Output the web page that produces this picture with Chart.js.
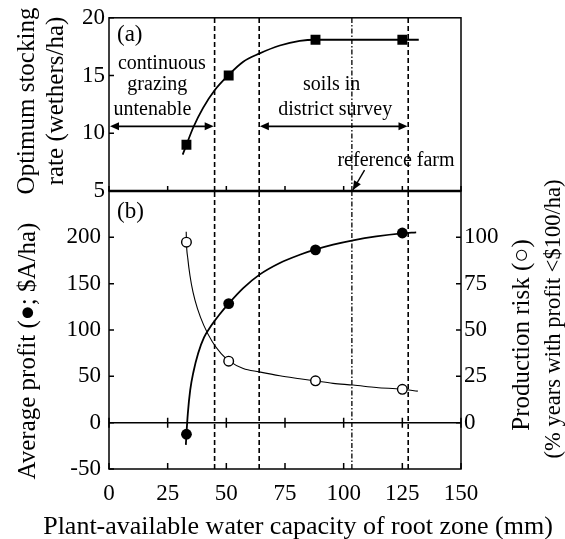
<!DOCTYPE html>
<html>
<head>
<meta charset="utf-8">
<script src="https://cdn.jsdelivr.net/npm/chart.js@4.4.1/dist/chart.umd.min.js"></script>
<style>
  body { margin: 0; background: #fff; }
  #wrap { position: relative; width: 565px; height: 539px; }
  #wrap canvas { position: absolute; left: 0; top: 0; }
</style>
</head>
<body>
<div id="wrap">
  <canvas id="profit" width="565" height="539"></canvas>
  <canvas id="stock" width="565" height="539"></canvas>
</div>
<script>
// plant-available water capacity of the four soils (mm)
var capacity = [33, 51, 88, 125];
var stockingRate = [9, 15, 18.1, 18.1];          // wethers/ha
var avgProfit = [-12.5, 128.5, 186.5, 204.7];    // $A/ha
var prodRisk = [97.4, 33.2, 22.6, 18];           // % years with profit < $100/ha

// fitted curves
var stockCurveX = [31.4, 33, 35.9, 40.1, 45.1, 51.2, 57.2, 64, 72.8, 81.3, 88, 100, 115, 132];
var stockCurveY = [8.15, 9, 10.5, 12.2, 13.75, 15.1, 16.2, 16.9, 17.6, 18.0, 18.1, 18.1, 18.1, 18.1];
var profitCurveX = [32.75, 33, 33.6, 34.6, 36, 38, 40.5, 43.5, 47, 51, 57.2, 64, 72.8, 81.3, 87.4, 95.5, 104, 113.9, 124.8, 130.9];
var profitCurveY = [-24, -12.5, 10, 35, 55, 75, 92, 104.5, 116.5, 128.5, 145.2, 159.5, 172.3, 181.2, 186.4, 192.1, 196.8, 201, 204.3, 205.4];
var riskCurveX = [32.9, 33, 33.6, 34.5, 35.8, 37.7, 40.4, 44.1, 47.8, 51.3, 57.2, 64, 72.8, 81.3, 87.4, 95.5, 104, 113.9, 124.8, 131.6];
var riskCurveY = [103, 97.4, 88.4, 79.4, 70.4, 61.5, 52.5, 43.5, 37.3, 33.2, 29.2, 27.4, 25.3, 23.7, 22.6, 21.2, 20.3, 19, 18, 17];

var xTicks = [0, 25, 50, 75, 100, 125, 150];
var stockTicks = [5, 10, 15, 20];
var profitTicks = [-50, 0, 50, 100, 150, 200];
var riskTicks = [0, 25, 50, 75, 100];

// grazing limit, survey range lower / upper bound, reference farm
var boundaries = [45, 64, 127.5];
var referenceFarm = 103.5;

var SERIF = '"Liberation Serif", "Times New Roman", serif';
Chart.defaults.font.family = SERIF;
Chart.defaults.color = '#000';

function pts(xs, ys) {
  return xs.map(function (x, i) { return { x: x, y: ys[i] }; });
}
function curve(xs, ys, w, axis) {
  return { data: pts(xs, ys), showLine: true, borderColor: '#000', borderWidth: w,
    pointRadius: 0, cubicInterpolationMode: 'monotone', yAxisID: axis || 'y' };
}
function vlines(lo, hi) {
  var out = boundaries.map(function (b) {
    return { data: [{ x: b, y: lo }, { x: b, y: hi }], showLine: true, borderColor: '#000',
      borderWidth: 1.6, borderDash: [5, 3], pointRadius: 0 };
  });
  out.push({ data: [{ x: referenceFarm, y: lo }, { x: referenceFarm, y: hi }], showLine: true,
    borderColor: '#000', borderWidth: 1.3, borderDash: [5, 2, 1.5, 2], pointRadius: 0 });
  return out;
}
function text(c, s, x, y, size, align) {
  c.font = size + 'px ' + SERIF;
  c.textAlign = align || 'center';
  c.textBaseline = 'middle';
  c.fillText(s, x, y);
}
function vtext(c, s, x, y, size) {
  c.save();
  c.translate(x, y);
  c.rotate(-Math.PI / 2);
  text(c, s, 0, 0, size);
  c.restore();
}
function head(c, x, y, ang) {
  c.save();
  c.translate(x, y);
  c.rotate(ang);
  c.beginPath();
  c.moveTo(0, 0); c.lineTo(-9, -4); c.lineTo(-9, 4); c.closePath();
  c.fill();
  c.restore();
}
function span(c, x1, x2, y) {
  c.beginPath(); c.moveTo(x1 + 4, y); c.lineTo(x2 - 4, y); c.stroke();
  head(c, x1, y, Math.PI);
  head(c, x2, y, 0);
}
function fixedTicks(list) {
  return function (s) { s.ticks = list.map(function (v) { return { value: v }; }); };
}

// ---------- panel (b) ----------
var profitFrame = {
  id: 'profitFrame',
  afterDraw: function (chart) {
    var c = chart.ctx, a = chart.chartArea, xs = chart.scales.x, ys = chart.scales.y, yr = chart.scales.y2;
    c.save();
    c.strokeStyle = '#000'; c.fillStyle = '#000'; c.lineWidth = 1.5;
    c.strokeRect(a.left, a.top, a.right - a.left, a.bottom - a.top);
    c.beginPath();
    var zero = ys.getPixelForValue(0);
    xTicks.forEach(function (v) {
      var px = xs.getPixelForValue(v);
      c.moveTo(px, a.bottom); c.lineTo(px, a.bottom - 6);
      c.moveTo(px, zero - 5); c.lineTo(px, zero + 5);
    });
    profitTicks.forEach(function (v) {
      var py = ys.getPixelForValue(v);
      c.moveTo(a.left, py); c.lineTo(a.left + 5, py);
    });
    riskTicks.forEach(function (v) {
      var py = yr.getPixelForValue(v);
      c.moveTo(a.right, py); c.lineTo(a.right - 5, py);
    });
    c.stroke();
    c.beginPath(); c.lineWidth = 1.5; c.moveTo(a.left, zero); c.lineTo(a.right, zero); c.stroke();

    text(c, '(b)', xs.getPixelForValue(3.4), ys.getPixelForValue(227), 23, 'left');
    vtext(c, 'Average profit (\u25CF; $A/ha)', 28, 351, 25);
    vtext(c, 'Production risk (\u25CB)', 522, 335, 25);
    vtext(c, '(% years with profit <$100/ha)', 554, 319, 22.5);
    text(c, 'Plant-available water capacity of root zone (mm)', 298, 527, 26);
    c.restore();
  }
};

new Chart(document.getElementById('profit'), {
  type: 'scatter',
  data: {
    datasets: [
      { data: pts(capacity, prodRisk), yAxisID: 'y2', pointStyle: 'circle', pointRadius: 4.8,
        pointBackgroundColor: '#fff', pointBorderColor: '#000', pointBorderWidth: 1.4 },
      { data: pts(capacity, avgProfit), pointStyle: 'circle', pointRadius: 5.4,
        pointBackgroundColor: '#000', pointBorderColor: '#000', pointBorderWidth: 0 },
      curve(profitCurveX, profitCurveY, 1.8),
      curve(riskCurveX, riskCurveY, 1.1, 'y2')
    ].concat(vlines(-50, 250))
  },
  options: {
    responsive: false,
    animation: false,
    events: [],
    layout: { padding: { left: 0, right: 0, top: 191, bottom: 0 } },
    plugins: { legend: { display: false }, tooltip: { enabled: false } },
    scales: {
      x: {
        min: 0, max: 150,
        afterBuildTicks: fixedTicks(xTicks),
        afterFit: function (s) { s.height = 70; },
        grid: { display: false, drawTicks: false },
        border: { display: false },
        ticks: { padding: 11, font: { size: 23 } }
      },
      y: {
        min: -50, max: 250,
        afterBuildTicks: fixedTicks(profitTicks),
        afterFit: function (s) { s.width = 109; },
        grid: { display: false, drawTicks: false },
        border: { display: false },
        ticks: { padding: 8, font: { size: 23 } }
      },
      y2: {
        position: 'right',
        min: -25, max: 125,
        afterBuildTicks: fixedTicks(riskTicks),
        afterFit: function (s) { s.width = 104; },
        grid: { display: false, drawTicks: false },
        border: { display: false },
        ticks: { padding: 3, font: { size: 23 } }
      }
    }
  },
  plugins: [profitFrame]
});

// ---------- panel (a) ----------
var stockFrame = {
  id: 'stockFrame',
  afterDraw: function (chart) {
    var c = chart.ctx, a = chart.chartArea, xs = chart.scales.x, ys = chart.scales.y;
    c.save();
    c.strokeStyle = '#000'; c.fillStyle = '#000'; c.lineWidth = 1.5;
    c.strokeRect(a.left, a.top, a.right - a.left, a.bottom - a.top);
    c.beginPath();
    xTicks.forEach(function (v) {
      var px = xs.getPixelForValue(v);
      c.moveTo(px, a.bottom); c.lineTo(px, a.bottom - 5);
    });
    stockTicks.forEach(function (v) {
      var py = ys.getPixelForValue(v);
      c.moveTo(a.left, py); c.lineTo(a.left + 5, py);
    });
    c.stroke();
    c.lineWidth = 2.5;
    c.beginPath(); c.moveTo(a.left, a.bottom); c.lineTo(a.right, a.bottom); c.stroke();

    c.lineWidth = 1.6;
    var ay = ys.getPixelForValue(10.6);
    span(c, xs.getPixelForValue(0) + 1, xs.getPixelForValue(44.6), ay);
    span(c, xs.getPixelForValue(64.3), xs.getPixelForValue(127.2), ay);

    // reference farm pointer
    var tx = xs.getPixelForValue(referenceFarm) + 1, ty = ys.getPixelForValue(5) - 1;
    var sx = xs.getPixelForValue(108.9), sy = ys.getPixelForValue(6.8);
    c.lineWidth = 1.4;
    c.beginPath(); c.moveTo(sx, sy); c.lineTo(tx, ty); c.stroke();
    head(c, tx, ty, Math.atan2(ty - sy, tx - sx));

    text(c, '(a)', xs.getPixelForValue(3.4), ys.getPixelForValue(18.5), 23, 'left');
    text(c, 'continuous', xs.getPixelForValue(22.5), ys.getPixelForValue(16.0), 20);
    text(c, 'grazing', xs.getPixelForValue(20.6), ys.getPixelForValue(14.2), 20);
    text(c, 'untenable', xs.getPixelForValue(18.5), ys.getPixelForValue(12.07), 20);
    text(c, 'soils in', xs.getPixelForValue(94.9), ys.getPixelForValue(14.2), 20);
    text(c, 'district survey', xs.getPixelForValue(96.4), ys.getPixelForValue(12.07), 20);
    text(c, 'reference farm', xs.getPixelForValue(122.3), ys.getPixelForValue(7.64), 20);

    vtext(c, 'Optimum stocking', 27, 101, 25);
    vtext(c, 'rate (wethers/ha)', 56, 101, 25);
    c.restore();
  }
};

new Chart(document.getElementById('stock'), {
  type: 'scatter',
  data: {
    datasets: [
      { data: pts(capacity, stockingRate), pointStyle: 'rect', pointRadius: 7,
        pointBackgroundColor: '#000', pointBorderColor: '#000', pointBorderWidth: 0 },
      curve(stockCurveX, stockCurveY, 1.8)
    ].concat(vlines(5, 20))
  },
  options: {
    responsive: false,
    animation: false,
    events: [],
    layout: { padding: { left: 0, right: 104, top: 15, bottom: 348 } },
    plugins: { legend: { display: false }, tooltip: { enabled: false } },
    scales: {
      x: { min: 0, max: 150, display: false },
      y: {
        min: 5, max: 20,
        afterBuildTicks: fixedTicks(stockTicks),
        afterFit: function (s) { s.width = 109; },
        grid: { display: false, drawTicks: false },
        border: { display: false },
        ticks: { padding: 4, font: { size: 23 } }
      }
    }
  },
  plugins: [stockFrame]
});
</script>
</body>
</html>
